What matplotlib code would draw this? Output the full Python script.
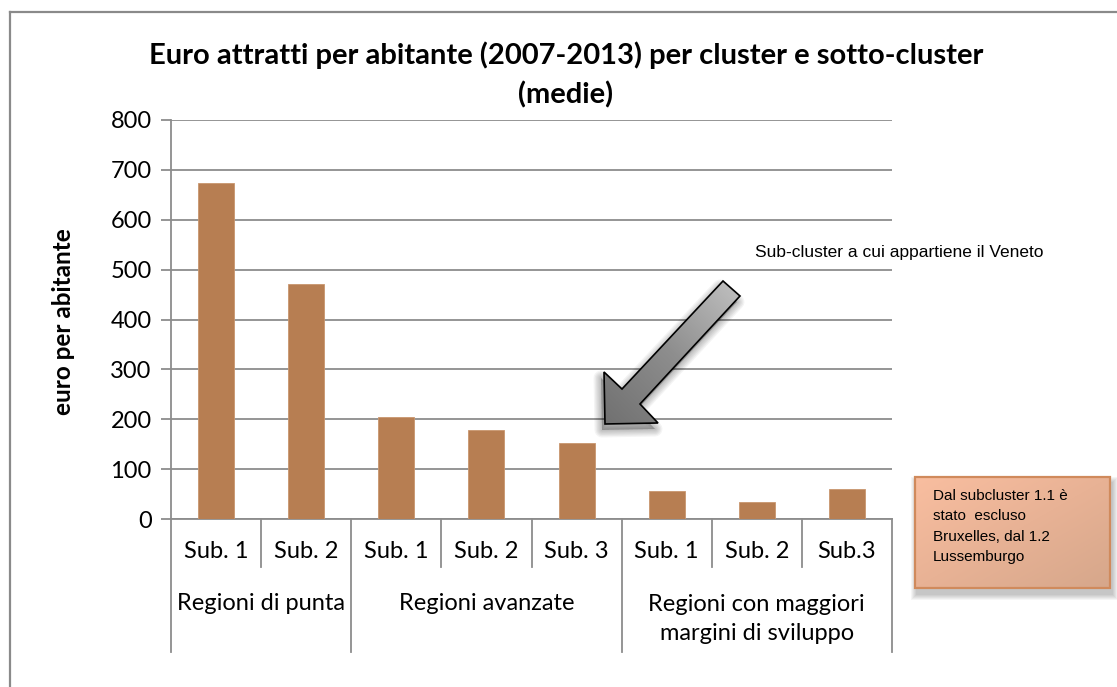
import numpy as np
import matplotlib
matplotlib.use("Agg")
import matplotlib.pyplot as plt
from matplotlib.patches import Polygon, Rectangle
from matplotlib.lines import Line2D
from matplotlib.colors import LinearSegmentedColormap

# ---------------- data ----------------
sub_labels = ["Sub. 1", "Sub. 2", "Sub. 1", "Sub. 2", "Sub. 3", "Sub. 1", "Sub. 2", "Sub.3"]
values = [673, 471, 205, 178, 152, 56, 34, 60]
group_labels = ["Regioni di punta", "Regioni avanzate", "Regioni con maggiori\nmargini di sviluppo"]
group_sizes = [2, 3, 3]
y_ticks = [0, 100, 200, 300, 400, 500, 600, 700, 800]

title = "Euro attratti per abitante (2007-2013) per cluster e sotto-cluster\n(medie)"
ylabel = "euro per abitante"
arrow_note = "Sub-cluster a cui appartiene il Veneto"
box_note = "Dal subcluster 1.1 è\nstato  escluso\nBruxelles, dal 1.2\nLussemburgo"

W, H = 1117, 687
BAR = "#B77E52"
GRID = "#8C8C8C"
MAIN_FONT = ["Lato", "DejaVu Sans"]
NARROW = ["Liberation Sans", "DejaVu Sans"]

fig = plt.figure(figsize=(W / 100, H / 100), dpi=100)
fig.patch.set_facecolor("white")

ax = fig.add_axes([171 / W, 1 - 519 / H, (892 - 171) / W, (519 - 120) / H])
x = np.arange(len(values))
ax.bar(x, values, width=0.4, color=BAR, edgecolor="#C9966E", linewidth=0.6, zorder=3)
ax.set_xlim(-0.5, len(values) - 0.5)
ax.set_ylim(0, 800)
ax.set_yticks(y_ticks)
ax.set_yticklabels([str(v) for v in y_ticks], fontsize=17, family=MAIN_FONT, color="black")
ax.tick_params(axis="y", length=7, width=1.3, color=GRID, direction="out", pad=7)
ax.set_xticks([])
ax.yaxis.grid(True, color=GRID, linewidth=1.3, zorder=0)
for s in ["top", "right"]:
    ax.spines[s].set_visible(False)
ax.spines["left"].set_color(GRID)
ax.spines["left"].set_linewidth(1.3)
ax.spines["bottom"].set_color(GRID)
ax.spines["bottom"].set_linewidth(1.3)
ax.set_ylabel(ylabel, fontsize=17.5, fontweight="bold", family=MAIN_FONT)
ax.yaxis.set_label_coords(-(171 - 75) / (892 - 171), (519 - 322) / (519 - 120))

# category axis: sub labels and group labels
tr = ax.get_xaxis_transform()
ax_h = (519 - 120)
sub_bottom = -(567 - 519) / ax_h
grp_bottom = -(652 - 519) / ax_h
for i, lab in enumerate(sub_labels):
    ax.text(i, -(552 - 519) / ax_h, lab, transform=tr, ha="center", va="center",
            fontsize=17, family=MAIN_FONT)
bounds = np.concatenate([[0], np.cumsum(group_sizes)]) - 0.5
for b in np.arange(-0.5, len(values), 1.0):
    is_group = np.any(np.isclose(bounds, b))
    ax.add_line(Line2D([b, b], [0, grp_bottom if is_group else sub_bottom], transform=tr,
                       color=GRID, linewidth=1.3, clip_on=False))
for gi, lab in enumerate(group_labels):
    c = (bounds[gi] + bounds[gi + 1]) / 2
    yy = -(603 - 519) / ax_h if "\n" not in lab else -(619 - 519) / ax_h
    ax.text(c, yy, lab, transform=tr, ha="center", va="center", fontsize=17,
            family=MAIN_FONT, linespacing=1.5)

fig.text(566 / W, 1 - 75 / H, title, ha="center", va="center", fontsize=21,
         fontweight="bold", family=MAIN_FONT, linespacing=1.55)

# overlay in pixel coordinates for decorations
ov = fig.add_axes([0, 0, 1, 1], zorder=5)
ov.axis("off")
ov.patch.set_alpha(0)

# outer chart frame (left and top edges visible)
ov.add_line(Line2D([10, 10], [12, H + 5], color="#8A8A8A", linewidth=1.6))
ov.add_line(Line2D([10, W + 5], [12, 12], color="#8A8A8A", linewidth=1.6))

# block arrow
arrow_pts = np.array([[723, 281], [740, 296], [640, 404], [658, 423], [605, 424],
                      [604, 372], [622, 389]])
for k in range(6, 0, -1):
    sh = Polygon(arrow_pts + np.array([-3, 6]), closed=True, facecolor="black",
                 edgecolor="black", linewidth=k * 1.8, alpha=0.045, joinstyle="round")
    ov.add_patch(sh)
poly = Polygon(arrow_pts, closed=True, facecolor="none", edgecolor="black", linewidth=1.2, zorder=3)
ov.add_patch(poly)
gx, gy = np.meshgrid(np.linspace(0, 1, 200), np.linspace(0, 1, 200))
gval = (gx + (1 - gy)) / 2  # 1 at top-right (tail), 0 at bottom-left (tip)
acm = LinearSegmentedColormap.from_list("arrowgrey", ["#6F6F6F", "#8E8E8E", "#C4C4C4"])
gimg = ov.imshow(gval, cmap=acm, extent=(600, 745, 428, 278), zorder=2, aspect="auto",
                 origin="upper")
gimg.set_clip_path(Polygon(arrow_pts, closed=True, transform=ov.transData))

ov.text(755, 253, arrow_note, ha="left", va="center", fontsize=12.5, family=NARROW)

# note box with shadow and gradient
bx0, by0, bx1, by1 = 915, 477, 1110, 588
for k in range(6, 0, -1):
    ov.add_patch(Rectangle((bx0 + 2 - k, by0 + 6 - k), bx1 - bx0 + 2 * k, by1 - by0 + 2 * k,
                           facecolor="black", edgecolor="none", alpha=0.04))
box_grad = np.linspace(0, 1, 200)[None, :] + np.linspace(0, 1, 200)[:, None]
cm = LinearSegmentedColormap.from_list("salmon", ["#F9BEA0", "#E8B295", "#D6A78B"])
ov.imshow(box_grad, cmap=cm, extent=(bx0, bx1, by1, by0), aspect="auto", zorder=3)
ov.add_patch(Rectangle((bx0, by0), bx1 - bx0, by1 - by0, facecolor="none",
                       edgecolor="#D08A5C", linewidth=1.6, zorder=4))
ov.text(933, 489, box_note, ha="left", va="top", fontsize=11, family=NARROW,
        linespacing=1.58, zorder=5)
ov.set_xlim(0, W)
ov.set_ylim(H, 0)

fig.savefig("out.png", dpi=100, facecolor="white")
